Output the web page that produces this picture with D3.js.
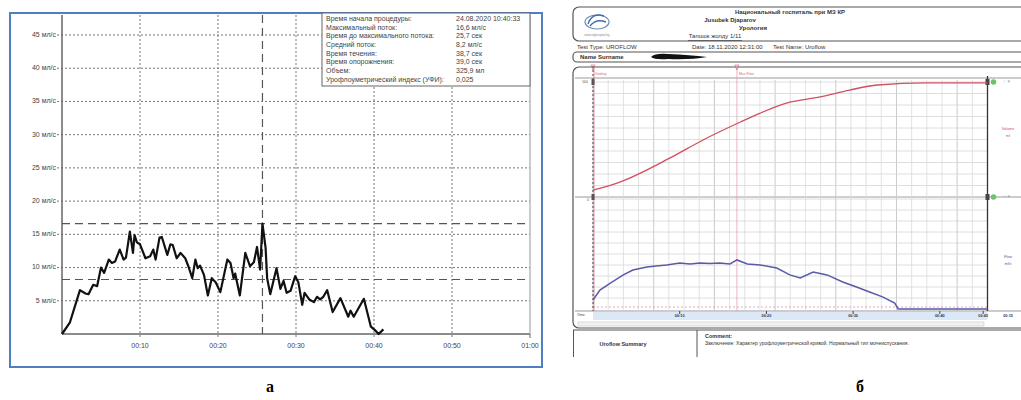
<!DOCTYPE html>
<html>
<head>
<meta charset="utf-8">
<script src="https://cdn.jsdelivr.net/npm/d3@7"></script>
<style>
  body { margin: 0; background: #fff; }
  svg { display: block; }
  text { font-family: "Liberation Sans", "DejaVu Sans", sans-serif; }
</style>
</head>
<body>
<svg width="1021" height="400"></svg>
<script>
// ---- панель а: урофлоуграмма ----
const flowTimeA = [0, 1.0, 2.3, 3.0, 3.4, 4.0, 4.5, 5.0, 5.4, 6.0, 6.4, 6.8, 7.4, 7.9, 8.2, 8.7, 9.1, 9.3, 9.6, 10.0,
  10.7, 11.3, 11.7, 12.0, 12.5, 12.8, 13.5, 13.9, 14.2, 14.7, 15.2, 15.8, 16.2, 16.7, 17.1, 17.4, 17.7, 18.2, 18.7, 19.2,
  19.7, 20.3, 21.2, 21.6, 22.0, 22.2, 22.8, 23.5, 24.1, 24.6, 25.0, 25.4, 25.7, 26.1, 26.3, 26.7, 27.5, 28.0, 28.4, 28.8,
  29.3, 29.9, 30.3, 30.8, 31.1, 31.7, 32.3, 32.7, 33.1, 33.5, 34.0, 34.7, 35.7, 36.7, 37.0, 37.4, 38.7, 39.6, 40.2, 40.6, 41.2];
const flowValuesA = [0, 1.7, 6.6, 6.1, 6.0, 7.4, 7.2, 10.0, 9.2, 11.2, 10.7, 10.9, 12.7, 11.2, 11.5, 15.4, 12.2, 14.9, 13.8, 13.5,
  11.4, 11.7, 12.7, 11.2, 14.5, 14.6, 11.9, 13.5, 13.4, 11.4, 12.2, 11.4, 10.2, 8.4, 11.2, 9.9, 10.3, 8.9, 5.8, 8.4,
  7.8, 6.3, 11.2, 10.7, 8.4, 9.1, 5.8, 12.2, 10.2, 10.8, 13.1, 9.7, 16.6, 13.0, 8.4, 6.0, 9.9, 6.8, 8.0, 6.2,
  6.5, 8.7, 7.8, 4.4, 6.2, 5.2, 4.8, 5.6, 5.2, 5.6, 6.6, 3.3, 5.4, 2.6, 3.5, 2.6, 5.3, 1.1, 0.5, 0, 0.7];
const yTicksA = [5, 10, 15, 20, 25, 30, 35, 40, 45];
const xTicksA = [10, 20, 30, 40, 50, 60];
const xTickLabelsA = ["00:10", "00:20", "00:30", "00:40", "00:50", "01:00"];
const refFlowsA = [16.6, 8.2];
const maxFlowTimeA = 25.7;
const infoLabels = ["Время начала процедуры:", "Максимальный поток:", "Время до максимального потока:", "Средний поток:",
  "Время течения:", "Время опорожнения:", "Объем:", "Урофлоуметрический индекс (УФИ):"];
const infoValues = ["24.08.2020 10:40:33", "16,6 мл/с", "25,7 сек", "8,2 мл/с", "38,7 сек", "39,0 сек", "325,9 мл", "0,025"];

// ---- панель б: отчёт ----
const volTimeB = [0, 3.1, 8.9, 12.7, 17.0, 19.3, 22.4, 26.2, 29.6, 32.8, 38.5, 45.5];
const volValuesB = [30, 65, 170, 248, 326, 365, 409, 435, 465, 487, 496, 496];
const flowTimeB = [0, 0.8, 2.0, 3.5, 4.6, 6.2, 7.3, 8.5, 10.0, 11.2, 12.3, 13.5, 14.6, 15.8, 16.6, 17.8, 19.3, 21.2,
  22.7, 23.9, 25.4, 27.0, 28.8, 30.4, 31.9, 33.4, 34.8, 35.2, 45.5];
const flowValuesB = [4.1, 8.6, 11.8, 15.5, 17.7, 19.1, 19.6, 20.0, 20.9, 20.5, 20.9, 20.7, 20.9, 20.5, 22.3, 20.5, 20.0, 18.6,
  15.5, 14.1, 16.8, 15.5, 12.3, 10.0, 7.7, 5.5, 2.7, 0, 0];
const timeTicksB = [10, 20, 30, 40, 45];
const timeLabelsB = ["00:10", "00:20", "00:30", "00:40", "00:45"];
const maxFlowTimeB = 16.6;
const headerLines = ["Национальный госпиталь при МЗ КР", "Jusubek Djaparov", "Урология", "Тапшок жолду 1/11"];

const svg = d3.select("svg");
svg.append("rect").attr("width", 1021).attr("height", 400).attr("fill", "#fff");

// ===================== панель а =====================
const a = svg.append("g");
const xA = d3.scaleLinear().domain([0, 60]).range([62, 530]);
const yA = d3.scaleLinear().domain([0, 45]).range([334, 35]);
const topA = 15;

// рамка
a.append("rect")
  .attr("x", 10).attr("y", 13).attr("width", 532).attr("height", 354)
  .attr("fill", "#fff").attr("stroke", "#4f7fc0").attr("stroke-width", 2);

// сетка
a.selectAll(".hgrid").data(yTicksA).enter().append("line")
  .attr("x1", xA(0) - 5).attr("x2", xA(60))
  .attr("y1", d => yA(d)).attr("y2", d => yA(d))
  .attr("stroke", "#777").attr("stroke-width", 1).attr("stroke-dasharray", "2,2");
a.selectAll(".vgrid").data(xTicksA.slice(0, 5)).enter().append("line")
  .attr("x1", d => xA(d)).attr("x2", d => xA(d))
  .attr("y1", topA).attr("y2", yA(0) + 4)
  .attr("stroke", "#777").attr("stroke-width", 1).attr("stroke-dasharray", "2,2");

// оси
a.append("line").attr("x1", xA(0)).attr("x2", xA(0)).attr("y1", topA).attr("y2", yA(0))
  .attr("stroke", "#666").attr("stroke-width", 1.5);
a.append("line").attr("x1", xA(0)).attr("x2", xA(60)).attr("y1", yA(0)).attr("y2", yA(0))
  .attr("stroke", "#666").attr("stroke-width", 1.5);
a.append("line").attr("x1", xA(60)).attr("x2", xA(60)).attr("y1", topA).attr("y2", yA(0))
  .attr("stroke", "#999").attr("stroke-width", 1);
a.append("line").attr("x1", xA(60)).attr("x2", xA(60)).attr("y1", yA(0)).attr("y2", yA(0) + 4)
  .attr("stroke", "#666");

a.selectAll(".ylab").data(yTicksA).enter().append("text")
  .attr("x", xA(0) - 6).attr("y", d => yA(d))
  .attr("text-anchor", "end").attr("dominant-baseline", "middle")
  .attr("font-size", 7).attr("fill", "#444")
  .text(d => d + " мл/с");
a.selectAll(".xlab").data(xTicksA).enter().append("text")
  .attr("x", d => xA(d)).attr("y", yA(0) + 12)
  .attr("text-anchor", "middle").attr("dominant-baseline", "middle")
  .attr("font-size", 7).attr("fill", "#444")
  .text((d, i) => xTickLabelsA[i]);

// пунктир: макс. и средний поток, время до макс.
a.selectAll(".ref").data(refFlowsA).enter().append("line")
  .attr("x1", xA(0)).attr("x2", xA(60))
  .attr("y1", d => yA(d)).attr("y2", d => yA(d))
  .attr("stroke", "#555").attr("stroke-width", 1.2).attr("stroke-dasharray", "8,5");
a.append("line")
  .attr("x1", xA(maxFlowTimeA)).attr("x2", xA(maxFlowTimeA))
  .attr("y1", topA).attr("y2", yA(0))
  .attr("stroke", "#555").attr("stroke-width", 1.2).attr("stroke-dasharray", "8,5");

// кривая потока
a.append("path")
  .datum(flowTimeA.map((t, i) => [t, flowValuesA[i]]))
  .attr("fill", "none").attr("stroke", "#111").attr("stroke-width", 2.2)
  .attr("stroke-linejoin", "round")
  .attr("d", d3.line().x(d => xA(d[0])).y(d => yA(d[1])));

// информационная табличка
a.append("rect")
  .attr("x", 322).attr("y", 13).attr("width", 208).attr("height", 73)
  .attr("fill", "#fff").attr("stroke", "#666").attr("stroke-width", 1);
a.selectAll(".ilab").data(infoLabels).enter().append("text")
  .attr("x", 326).attr("y", (d, i) => 19 + i * 8.7)
  .attr("dominant-baseline", "middle").attr("font-size", 7).attr("fill", "#444")
  .text(d => d);
a.selectAll(".ival").data(infoValues).enter().append("text")
  .attr("x", 456).attr("y", (d, i) => 19 + i * 8.7)
  .attr("dominant-baseline", "middle").attr("font-size", 7).attr("fill", "#444")
  .text(d => d);

// ===================== панель б =====================
const b = svg.append("g");
const xB = d3.scaleLinear().domain([0, 45.5]).range([593, 987.5]);
const yVol = d3.scaleLinear().domain([0, 500]).range([197, 82]);
const yFlowB = d3.scaleLinear().domain([0, 50]).range([309, 199]);

// шапка
b.append("rect").attr("x", 573).attr("y", 7).attr("width", 470).attr("height", 34).attr("rx", 6)
  .attr("fill", "#fff").attr("stroke", "#555").attr("stroke-width", 1.2);
b.append("ellipse").attr("cx", 597).attr("cy", 22).attr("rx", 12).attr("ry", 7)
  .attr("fill", "none").attr("stroke", "#6d8fb8").attr("stroke-width", 1.2);
b.append("path").attr("d", "M588,24 Q592,12 604,16 M590,26 Q596,18 606,22")
  .attr("fill", "none").attr("stroke", "#3f6fa8").attr("stroke-width", 1.4);
b.append("text").attr("x", 597).attr("y", 36).attr("text-anchor", "middle")
  .attr("font-size", 3).attr("fill", "#888").text("www.nghospital.kg");
const headerX = [790, 730, 753, 715];
b.selectAll(".hdr").data(headerLines).enter().append("text")
  .attr("x", (d, i) => headerX[i]).attr("y", (d, i) => 12 + i * 8.3)
  .attr("text-anchor", "middle").attr("dominant-baseline", "middle")
  .attr("font-size", 6).attr("font-weight", (d, i) => i < 3 ? "bold" : "normal").attr("fill", "#333")
  .text(d => d);
b.append("line").attr("x1", 688).attr("x2", 742).attr("y1", 40.5).attr("y2", 40.5).attr("stroke", "#333").attr("stroke-width", 0.6);

const infoRow = [["Test Type: UROFLOW", 577], ["Date: 18.11.2020 12:31:00", 692], ["Test Name: Uroflow", 773]];
b.selectAll(".row").data(infoRow).enter().append("text")
  .attr("x", d => d[1]).attr("y", 47).attr("dominant-baseline", "middle")
  .attr("font-size", 6).attr("fill", "#333").text(d => d[0]);

// имя
b.append("rect").attr("x", 573).attr("y", 52).attr("width", 470).attr("height", 10).attr("rx", 4)
  .attr("fill", "#fff").attr("stroke", "#555").attr("stroke-width", 1.2);
b.append("text").attr("x", 580).attr("y", 57).attr("dominant-baseline", "middle")
  .attr("font-size", 6).attr("font-weight", "bold").attr("fill", "#333").text("Name Surname");
b.append("path").attr("d", "M651,57 Q655,53 668,54 Q690,55 707,57 Q690,60 668,59 Q655,60 651,57 Z")
  .attr("fill", "#111");

// блок графика
b.append("rect").attr("x", 573).attr("y", 67).attr("width", 470).attr("height", 261).attr("rx", 6)
  .attr("fill", "#fff").attr("stroke", "#555").attr("stroke-width", 1.2);
b.append("line").attr("x1", 575).attr("x2", 1021).attr("y1", 78).attr("y2", 78).attr("stroke", "#999").attr("stroke-width", 1);
b.append("line").attr("x1", 575).attr("x2", 1021).attr("y1", 197).attr("y2", 197).attr("stroke", "#999").attr("stroke-width", 1.2);
b.append("line").attr("x1", 575).attr("x2", 1021).attr("y1", 311).attr("y2", 311).attr("stroke", "#999").attr("stroke-width", 1);

// сетка
const gridTimes = d3.range(0, 45.5, 1.75);
b.selectAll(".bvg").data(gridTimes).enter().append("line")
  .attr("x1", d => xB(d)).attr("x2", d => xB(d)).attr("y1", 80).attr("y2", 311)
  .attr("stroke", (d, i) => i % 4 === 0 ? "#bdbdbd" : "#dadada").attr("stroke-width", 0.8);
b.selectAll(".bhv").data(d3.range(0, 501, 50)).enter().append("line")
  .attr("x1", xB(0)).attr("x2", xB(45.5)).attr("y1", d => yVol(d)).attr("y2", d => yVol(d))
  .attr("stroke", "#d6d6d6").attr("stroke-width", 0.8);
b.selectAll(".bhf").data(d3.range(5, 51, 5)).enter().append("line")
  .attr("x1", xB(0)).attr("x2", xB(45.5)).attr("y1", d => yFlowB(d)).attr("y2", d => yFlowB(d))
  .attr("stroke", "#d6d6d6").attr("stroke-width", 0.8);
b.append("line").attr("x1", xB(0)).attr("x2", xB(45.5)).attr("y1", yFlowB(0) - 2).attr("y2", yFlowB(0) - 2)
  .attr("stroke", "#d99aa8").attr("stroke-width", 0.8).attr("stroke-dasharray", "2,2");

// маркеры начала и макс. потока
b.append("line").attr("x1", xB(0) + 1).attr("x2", xB(0) + 1).attr("y1", 66).attr("y2", 311)
  .attr("stroke", "#e07a90").attr("stroke-width", 0.8);
b.append("line").attr("x1", xB(0)).attr("x2", xB(0)).attr("y1", 66).attr("y2", 311)
  .attr("stroke", "#444").attr("stroke-width", 1).attr("stroke-dasharray", "2,2");
b.append("line").attr("x1", xB(maxFlowTimeB)).attr("x2", xB(maxFlowTimeB)).attr("y1", 66).attr("y2", 311)
  .attr("stroke", "#e9a0ae").attr("stroke-width", 0.8);
[[0, "Voiding"], [maxFlowTimeB, "Max Flow"]].forEach(m => {
  b.append("path").attr("d", `M${xB(m[0]) - 2},65 L${xB(m[0]) + 2},65 L${xB(m[0])},70 Z`)
    .attr("fill", "none").attr("stroke", "#d66a80").attr("stroke-width", 0.7);
  b.append("text").attr("x", xB(m[0]) + 2).attr("y", 75).attr("font-size", 3.5).attr("fill", "#d66a80").text(m[1]);
});
b.append("line").attr("x1", xB(45.5)).attr("x2", xB(45.5)).attr("y1", 76).attr("y2", 311)
  .attr("stroke", "#333").attr("stroke-width", 1.3);
[yVol(500), 197].forEach(yy => {
  b.append("rect").attr("x", xB(45.5) - 2).attr("y", yy - 3).attr("width", 4).attr("height", 6).attr("fill", "#444");
  b.append("circle").attr("cx", xB(45.5) + 6).attr("cy", yy).attr("r", 2.8).attr("fill", "#6bc46b");
  b.append("text").attr("x", 1003).attr("y", yy).attr("dominant-baseline", "middle")
    .attr("font-size", 5).attr("fill", "#aaa").text("○ ▾");
});
[yVol(0), yVol(500)].forEach(yy => {
  b.append("rect").attr("x", xB(0) - 1.5).attr("y", yy - 3).attr("width", 3).attr("height", 6).attr("fill", "#555");
});
b.append("text").attr("x", 588).attr("y", yVol(500) + 1).attr("text-anchor", "end").attr("font-size", 3.5).attr("fill", "#555").text("500");
b.append("text").attr("x", 589).attr("y", 201).attr("text-anchor", "end").attr("font-size", 3.5).attr("fill", "#555").text("0");

// кривые
b.append("path")
  .datum(volTimeB.map((t, i) => [t, volValuesB[i]]))
  .attr("fill", "none").attr("stroke", "#d0505e").attr("stroke-width", 1.3)
  .attr("d", d3.line().curve(d3.curveMonotoneX).x(d => xB(d[0])).y(d => yVol(d[1])));
b.append("path")
  .datum(flowTimeB.map((t, i) => [t, flowValuesB[i]]))
  .attr("fill", "none").attr("stroke", "#5a5aa8").attr("stroke-width", 1.5)
  .attr("d", d3.line().x(d => xB(d[0])).y(d => yFlowB(d[1])));

// подписи каналов
b.append("text").attr("x", 1008).attr("y", 130).attr("text-anchor", "middle").attr("font-size", 3.8).attr("fill", "#d0505e").text("Volume");
b.append("text").attr("x", 1008).attr("y", 137).attr("text-anchor", "middle").attr("font-size", 3.8).attr("fill", "#d0505e").text("ml");
b.append("text").attr("x", 1008).attr("y", 258).attr("text-anchor", "middle").attr("font-size", 3.8).attr("fill", "#5a5aa8").text("Flow");
b.append("text").attr("x", 1008).attr("y", 265).attr("text-anchor", "middle").attr("font-size", 3.8).attr("fill", "#5a5aa8").text("ml/s");

// ось времени
b.append("rect").attr("x", xB(0)).attr("y", 312).attr("width", xB(45.5) - xB(0)).attr("height", 8).attr("fill", "#dce8f5");
b.append("text").attr("x", 577).attr("y", 315).attr("dominant-baseline", "middle").attr("font-size", 3.5).attr("fill", "#444").text("Time");
b.selectAll(".tt").data(timeTicksB).enter().append("line")
  .attr("x1", d => xB(d)).attr("x2", d => xB(d)).attr("y1", 311).attr("y2", 314).attr("stroke", "#444");
b.selectAll(".tl").data(timeTicksB).enter().append("text")
  .attr("x", d => xB(d)).attr("y", 316).attr("text-anchor", "middle").attr("dominant-baseline", "middle")
  .attr("font-size", 3.8).attr("font-weight", "bold").attr("fill", "#334").text((d, i) => timeLabelsB[i]);
b.append("text").attr("x", 1008).attr("y", 316).attr("text-anchor", "middle").attr("dominant-baseline", "middle")
  .attr("font-size", 3.8).attr("font-weight", "bold").attr("fill", "#334").text("00:15");
b.append("rect").attr("x", 578).attr("y", 322).attr("width", 406).attr("height", 4)
  .attr("fill", "#f2f2f2").attr("stroke", "#bbb").attr("stroke-width", 0.5);

// итоговый блок
b.append("line").attr("x1", 573).attr("x2", 1021).attr("y1", 330).attr("y2", 330).attr("stroke", "#555").attr("stroke-width", 1);
b.append("line").attr("x1", 573.5).attr("x2", 573.5).attr("y1", 330).attr("y2", 357).attr("stroke", "#555").attr("stroke-width", 1);
b.append("line").attr("x1", 697).attr("x2", 697).attr("y1", 330).attr("y2", 357).attr("stroke", "#555").attr("stroke-width", 1);
b.append("text").attr("x", 623).attr("y", 345).attr("text-anchor", "middle").attr("dominant-baseline", "middle")
  .attr("font-size", 5.5).attr("font-weight", "bold").attr("fill", "#333").text("Uroflow Summary");
b.append("text").attr("x", 705).attr("y", 337).attr("dominant-baseline", "middle")
  .attr("font-size", 5.5).attr("font-weight", "bold").attr("fill", "#333").text("Comment:");
b.append("text").attr("x", 705).attr("y", 344).attr("dominant-baseline", "middle")
  .attr("font-size", 5).attr("fill", "#333")
  .text("Заключение: Характер урофлоуметрической кривой. Нормальный тип мочеиспускания.");

// подписи панелей
[["а", 270], ["б", 860]].forEach(c => {
  svg.append("text").attr("x", c[1]).attr("y", 392).attr("text-anchor", "middle")
    .style("font-family", "'Liberation Serif', 'DejaVu Serif', serif")
    .attr("font-weight", "bold").attr("font-size", 16).text(c[0]);
});
</script>
</body>
</html>
